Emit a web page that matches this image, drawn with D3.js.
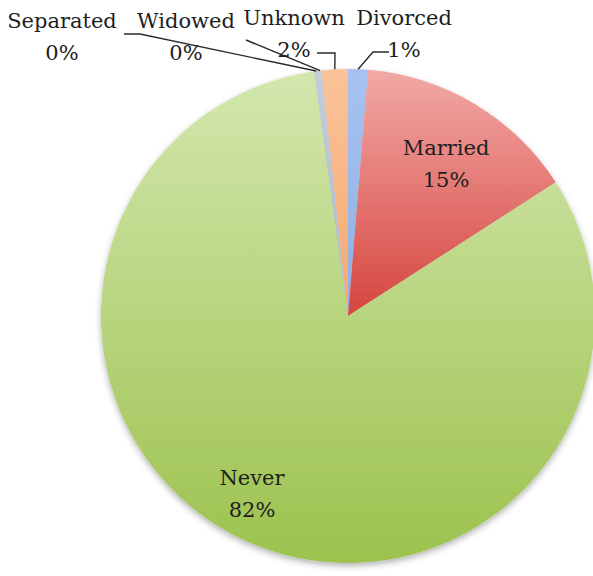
<!DOCTYPE html>
<html>
<head>
<meta charset="utf-8">
<script src="https://cdn.jsdelivr.net/npm/d3@7"></script>
<style>
  html, body { margin: 0; padding: 0; background: #ffffff; }
  svg { display: block; }
  text { font-family: "DejaVu Serif", serif; fill: #1e1e1e; }
</style>
</head>
<body>
<div id="chart"></div>
<script>
// Marital status, share of respondents (%), clockwise from 12 o'clock
const categories = ["Divorced", "Married", "Never", "Separated", "Widowed", "Unknown"];
const values     = [1.3, 14.6, 81.9, 0.3, 0.2, 1.7];
const colorsTop    = ["#a7c2f0", "#f2a9a6", "#d3e7ae", "#c4ceda", "#c4ceda", "#fbc39a"];
const colorsBottom = ["#8fb0e6", "#d6453f", "#9cc24e", "#a9b6c6", "#a9b6c6", "#f5a86f"];

const width = 593, height = 576;
const cx = 348, cy = 316, radius = 247;
const fontSize = 21, lineGap = 32;

// Label layout: centre x and first baseline; leader = polyline from the label to the slice edge
const labelLayout = {
  Divorced:  { x: 404, y: 25, inside: false, leader: [[389, 52], [373, 52]] },
  Married:   { x: 446, y: 155, inside: true },
  Never:     { x: 252, y: 485, inside: true },
  Separated: { x: 62,  y: 28, inside: false, leader: [[124, 34], [140, 34]] },
  Widowed:   { x: 186, y: 28, inside: false, leader: [[246, 40]] },
  Unknown:   { x: 294, y: 25, inside: false, leader: [[317, 53], [335, 53]] }
};

const data = categories.map((c, i) => ({ name: c, value: values[i], i }));

const svg = d3.select("#chart").append("svg")
  .attr("width", width).attr("height", height);

const defs = svg.append("defs");
data.forEach(d => {
  const g = defs.append("linearGradient")
    .attr("id", "grad" + d.i)
    .attr("x1", 0).attr("y1", 0).attr("x2", 0).attr("y2", 1);
  g.append("stop").attr("offset", "0%").attr("stop-color", colorsTop[d.i]);
  g.append("stop").attr("offset", "100%").attr("stop-color", colorsBottom[d.i]);
});
const shadow = defs.append("filter").attr("id", "shadow")
  .attr("x", "-10%").attr("y", "-10%").attr("width", "120%").attr("height", "120%");
shadow.append("feDropShadow")
  .attr("dx", 0).attr("dy", 3).attr("stdDeviation", 3)
  .attr("flood-color", "#000").attr("flood-opacity", 0.3);

const pie = d3.pie().sort(null).value(d => d.value)
  .startAngle(0).endAngle(2 * Math.PI);
const arcs = pie(data);
const arc = d3.arc().innerRadius(0).outerRadius(radius);

const g = svg.append("g").attr("transform", `translate(${cx},${cy})`);

g.append("g").attr("filter", "url(#shadow)")
  .selectAll("path")
  .data(arcs)
  .join("path")
  .attr("d", arc)
  .attr("fill", d => `url(#grad${d.data.i})`);

const pct = v => Math.round(v) + "%";

// Leader lines for the thin slices
const edgePoint = d => {
  const a = (d.startAngle + d.endAngle) / 2;
  return [cx + radius * Math.sin(a), cy - radius * Math.cos(a)];
};
const line = d3.line();
svg.append("g").selectAll("path")
  .data(arcs.filter(d => !labelLayout[d.data.name].inside))
  .join("path")
  .attr("d", d => line(labelLayout[d.data.name].leader.concat([edgePoint(d)])))
  .attr("fill", "none")
  .attr("stroke", "#2a2a2a")
  .attr("stroke-width", 1.4);

// Category name and percentage
const labels = svg.append("g").selectAll("text")
  .data(arcs)
  .join("text")
  .attr("text-anchor", "middle")
  .attr("font-size", fontSize)
  .attr("x", d => labelLayout[d.data.name].x)
  .attr("y", d => labelLayout[d.data.name].y);
labels.append("tspan")
  .attr("x", d => labelLayout[d.data.name].x)
  .text(d => d.data.name);
labels.append("tspan")
  .attr("x", d => labelLayout[d.data.name].x)
  .attr("dy", lineGap)
  .text(d => pct(d.data.value));
</script>
</body>
</html>
